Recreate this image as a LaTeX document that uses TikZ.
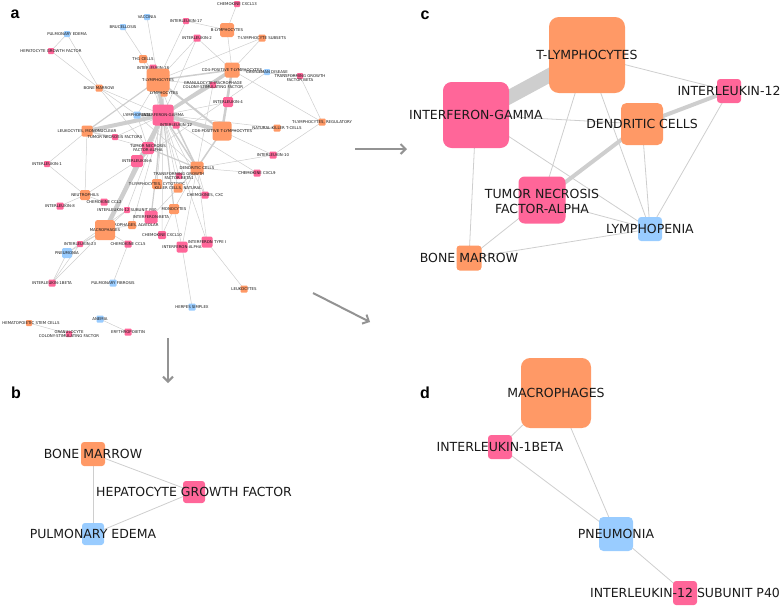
\documentclass[tikz,border=0pt]{standalone}
\usepackage{fontspec}
\setmainfont{DejaVu Sans}
\newfontfamily\panelfont{Liberation Sans}
\usetikzlibrary{arrows.meta}
\definecolor{orng}{RGB}{255,153,102}
\definecolor{pnk}{RGB}{255,102,153}
\definecolor{skyb}{RGB}{153,204,255}
\definecolor{linkgray}{RGB}{206,206,206}
\definecolor{txt}{RGB}{26,26,26}
\pgfdeclarelayer{edges}
\pgfsetlayers{edges,main}

\begin{document}
\begin{tikzpicture}[x=1pt,y=-1pt,
  nd/.style={rounded corners={0.13pt*#1},minimum size=#1pt,inner sep=0pt},
  orbox/.style={nd=#1,fill=orng},
  pkbox/.style={nd=#1,fill=pnk},
  blbox/.style={nd=#1,fill=skyb},
  big/.style={font=\fontsize{12.5}{15}\selectfont,text=txt,inner sep=0pt,align=center},
  tiny/.style={font=\fontsize{3.9}{4.5}\selectfont,text=txt,inner sep=0pt,align=center},
  link/.style={draw=linkgray,line width=#1pt},
  link/.default=0.8,
  flow/.style={draw=gray!85,line width=2pt,-{Straight Barb[length=5pt,width=10pt]}},
  panel/.style={font=\panelfont\bfseries\fontsize{16}{16}\selectfont,inner sep=0pt}]
  \useasboundingbox (0,0) rectangle (784,606);
  %
  \node[panel] (la) at (15,14) {a};
  \node[panel] (lb) at (16,393) {b};
  \node[panel] (lc) at (425,15) {c};
  \node[panel] (ld) at (425,393) {d};
  %
  % panel a
  \node[blbox=6,label={[tiny]center:VACCINIA}] (aVac) at (147,17) {};
  \node[blbox=6,label={[tiny]center:BRUCELLOSIS}] (aBru) at (123,27) {};
  \node[blbox=6,label={[tiny]center:PULMONARY EDEMA}] (aPE) at (67,34) {};
  \node[pkbox=6,label={[tiny]center:HEPATOCYTE GROWTH FACTOR}] (aHGF) at (51,51) {};
  \node[pkbox=6,label={[tiny]center:CHEMOKINE CXCL13}] (aCX13) at (237,4) {};
  \node[pkbox=6,label={[tiny]center:INTERLEUKIN-17}] (aIL17) at (186,21) {};
  \node[orbox=14,label={[tiny]center:B-LYMPHOCYTES}] (aBL) at (227,30) {};
  \node[pkbox=7,label={[tiny]center:INTERLEUKIN-2}] (aIL2) at (197,38) {};
  \node[orbox=7,label={[tiny]center:T-LYMPHOCYTE SUBSETS}] (aTLS) at (262,38) {};
  \node[orbox=8,label={[tiny]center:TH1 CELLS}] (aTh1) at (143,59) {};
  \node[pkbox=7,label={[tiny]center:INTERLEUKIN-18}] (aIL18) at (153,68) {};
  \node[orbox=23,label={[tiny]center:T-LYMPHOCYTES}] (aTL) at (158,80) {};
  \node[orbox=7,label={[tiny]center:LYMPHOCYTES}] (aLy) at (164,93) {};
  \node[orbox=7,label={[tiny]center:BONE MARROW}] (aBM) at (99,88) {};
  \node[orbox=15,label={[tiny]center:CD4-POSITIVE T-LYMPHOCYTES}] (aCD4) at (232,70) {};
  \node[blbox=6,label={[tiny]center:CASTLEMAN DISEASE}] (aCas) at (267,72) {};
  \node[pkbox=6,label={[tiny,yshift=-2pt]center:TRANSFORMING GROWTH\\FACTOR BETA}] (aTGFb) at (300,76) {};
  \node[pkbox=6,label={[tiny]center:GRANULOCYTE-MACROPHAGE\\COLONY-STIMULATING FACTOR}] (aGM) at (213,85) {};
  \node[pkbox=10,label={[tiny]center:INTERLEUKIN-4}] (aIL4) at (228,102) {};
  \node[blbox=7,label={[tiny]center:LYMPHOPENIA}] (aLP) at (137,115) {};
  \node[pkbox=21,label={[tiny]center:INTERFERON-GAMMA}] (aIFG) at (163,115) {};
  \node[pkbox=7,label={[tiny]center:INTERLEUKIN-12}] (aIL12) at (176,125) {};
  \node[orbox=7,label={[tiny]center:T-LYMPHOCYTES, REGULATORY}] (aTreg) at (322,122) {};
  \node[orbox=7,label={[tiny]center:NATURAL KILLER T-CELLS}] (aNKT) at (277,128) {};
  \node[orbox=19,label={[tiny]center:CD8-POSITIVE T-LYMPHOCYTES}] (aCD8) at (222,131) {};
  \node[orbox=11,label={[tiny]center:LEUKOCYTES, MONONUCLEAR}] (aLM) at (87,131) {};
  \node[pkbox=6,label={[tiny]center:TUMOR NECROSIS FACTORS}] (aTNFs) at (115,137) {};
  \node[pkbox=12,label={[tiny]center:TUMOR NECROSIS\\FACTOR-ALPHA}] (aTNF) at (148,148) {};
  \node[pkbox=7,label={[tiny]center:INTERLEUKIN-10}] (aIL10) at (273,155) {};
  \node[pkbox=12,label={[tiny]center:INTERLEUKIN-6}] (aIL6) at (137,161) {};
  \node[pkbox=6,label={[tiny]center:INTERLEUKIN-1}] (aIL1) at (47,164) {};
  \node[orbox=13,label={[tiny]center:DENDRITIC CELLS}] (aDC) at (197,168) {};
  \node[pkbox=7,label={[tiny]center:CHEMOKINE CXCL9}] (aCX9) at (257,173) {};
  \node[pkbox=6,label={[tiny]center:TRANSFORMING GROWTH\\FACTOR BETA1}] (aTGF1) at (179,176) {};
  \node[orbox=10,label={[tiny]center:T-LYMPHOCYTES, CYTOTOXIC}] (aCTL) at (157,184) {};
  \node[orbox=9,label={[tiny]center:KILLER CELLS, NATURAL}] (aNK) at (178,188) {};
  \node[pkbox=7,label={[tiny]center:CHEMOKINES, CXC}] (aCXC) at (205,195) {};
  \node[orbox=10,label={[tiny]center:NEUTROPHILS}] (aNeu) at (85,195) {};
  \node[pkbox=7,label={[tiny]center:CHEMOKINE CCL2}] (aCCL2) at (104,202) {};
  \node[pkbox=7,label={[tiny]center:INTERLEUKIN-8}] (aIL8) at (60,206) {};
  \node[orbox=10,label={[tiny]center:MONOCYTES}] (aMo) at (174,209) {};
  \node[pkbox=6,label={[tiny]center:INTERLEUKIN-12 SUBUNIT P40}] (aIL12p) at (127,210) {};
  \node[pkbox=13,label={[tiny]center:INTERFERON-BETA}] (aIFB) at (151,217) {};
  \node[orbox=8,label={[tiny]center:MACROPHAGES, ALVEOLAR}] (aMA) at (132,225) {};
  \node[orbox=20,label={[tiny]center:MACROPHAGES}] (aMac) at (105,230) {};
  \node[pkbox=8,label={[tiny]center:CHEMOKINE CXCL10}] (aCX10) at (162,235) {};
  \node[pkbox=11,label={[tiny]center:INTERFERON TYPE I}] (aIFN1) at (207,242) {};
  \node[pkbox=11,label={[tiny]center:INTERFERON-ALPHA}] (aIFA) at (182,247) {};
  \node[pkbox=7,label={[tiny]center:CHEMOKINE CCL5}] (aCCL5) at (128,244) {};
  \node[pkbox=6,label={[tiny]center:INTERLEUKIN-23}] (aIL23) at (80,244) {};
  \node[blbox=10,label={[tiny]center:PNEUMONIA}] (aPn) at (67,253) {};
  \node[pkbox=7,label={[tiny]center:INTERLEUKIN-1BETA}] (aIL1b) at (52,283) {};
  \node[blbox=7,label={[tiny]center:PULMONARY FIBROSIS}] (aPF) at (113,283) {};
  \node[orbox=7,label={[tiny]center:LEUKOCYTES}] (aLeu) at (244,289) {};
  \node[blbox=7,label={[tiny]center:HERPES SIMPLEX}] (aHS) at (192,307) {};
  \node[blbox=7,label={[tiny]center:ANEMIA}] (aAn) at (100,319) {};
  \node[pkbox=7,label={[tiny]center:ERYTHROPOIETIN}] (aEPO) at (128,332) {};
  \node[orbox=6,label={[tiny,xshift=2pt]center:HEMATOPOIETIC STEM CELLS}] (aHSC) at (29,323) {};
  \node[pkbox=6,label={[tiny]center:GRANULOCYTE\\COLONY-STIMULATING FACTOR}] (aGCSF) at (69,334) {};
  %
  % panel b
  \node[orbox=24,label={[big]center:BONE MARROW}] (bBM) at (93,454) {};
  \node[pkbox=22,label={[big]center:HEPATOCYTE GROWTH FACTOR}] (bHGF) at (194,492) {};
  \node[blbox=22,label={[big]center:PULMONARY EDEMA}] (bPE) at (93,534) {};
  %
  % panel c
  \node[orbox=76,label={[big]center:T-LYMPHOCYTES}] (cTL) at (587,55) {};
  \node[pkbox=66,label={[big]center:INTERFERON-GAMMA}] (cIFG) at (476,115) {};
  \node[pkbox=24,label={[big]center:INTERLEUKIN-12}] (cIL12) at (729,91) {};
  \node[orbox=42,label={[big]center:DENDRITIC CELLS}] (cDC) at (642,124) {};
  \node[pkbox=47,label={[big,yshift=-1pt]center:TUMOR NECROSIS\\FACTOR-ALPHA}] (cTNF) at (542,200) {};
  \node[blbox=24,label={[big]center:LYMPHOPENIA}] (cLP) at (650,229) {};
  \node[orbox=25,label={[big]center:BONE MARROW}] (cBM) at (469,258) {};
  %
  % panel d
  \node[orbox=70,label={[big]center:MACROPHAGES}] (dMac) at (556,393) {};
  \node[pkbox=24,label={[big]center:INTERLEUKIN-1BETA}] (dIL1b) at (500,447) {};
  \node[blbox=34,label={[big]center:PNEUMONIA}] (dPn) at (616,534) {};
  \node[pkbox=24,label={[big]center:INTERLEUKIN-12 SUBUNIT P40}] (dIL12p) at (685,593) {};
  %
  % arrows between panels
  \coordinate (toB1) at (168,338);
  \coordinate (toB2) at (168,383);
  \coordinate (toC1) at (355,149);
  \coordinate (toC2) at (407,149);
  \coordinate (toD1) at (313,293);
  \coordinate (toD2) at (370,322);
  \draw[flow] (toB1) -- (toB2);
  \draw[flow] (toC1) -- (toC2);
  \draw[flow] (toD1) -- (toD2);
  %
  \begin{pgfonlayer}{edges}
    \foreach \u/\v/\w in {aIFG/aTL/4,aIFG/aMac/4.5,aIFG/aLM/4,aIFG/aCD8/4,aIFG/aCD4/3.5,
      aIFG/aGM/2,aCD4/aCD8/2.5,aTL/aCD8/2,aIFG/aTNF/2,aIFG/aIL6/1.5,aIFG/aDC/1.5,
      aCD8/aDC/1.5,aTL/aLM/1.2,aTNF/aDC/1.2,aIL12/aDC/1.5,aTL/aCD4/1.5,aIFG/aIFB/1.2,
      aIL6/aMac/1.2,aTNF/aMac/1.2,aIFG/aMo/1.2}
      \draw[link=\w] (\u.center) -- (\v.center);
    \foreach \u/\v in {aPE/aHGF,aPE/aBM,aHGF/aBM,aVac/aTL,aBru/aTL,aTh1/aIFG,aIL18/aIFG,
      aBM/aIFG,aBM/aTNF,aBM/aLP,aLP/aIFG,aLP/aTL,aCX13/aBL,aIL17/aBL,aIL17/aTL,aBL/aCD4,
      aIL2/aTL,aIL2/aCD4,aIL2/aIFG,aTLS/aCD4,aTLS/aTL,aCas/aIL6,aCas/aCD4,aTGFb/aTreg,
      aTGFb/aCD4,aTreg/aIL10,aTreg/aCD4,aNKT/aIFG,aNKT/aCD8,aIL10/aDC,aIL10/aCD8,
      aCX9/aDC,aCX9/aIFG,aCXC/aDC,aCXC/aIFG,aMo/aDC,aMo/aIFA,aIFN1/aDC,aIFN1/aLeu,
      aIFN1/aIFG,aCX10/aIFG,aCX10/aMo,aIFA/aHS,aIFA/aDC,aTGF1/aIFG,aNK/aIFG,aNK/aDC,
      aCTL/aIFG,aCTL/aTL,aIFB/aDC,aIL12p/aMac,aIL12p/aIFG,aMA/aMac,aMA/aIFG,aNeu/aIL1,
      aNeu/aLM,aNeu/aIL8,aNeu/aCCL2,aNeu/aIL6,aIL1/aLM,aTNFs/aIFG,aTNFs/aLM,aTNF/aLM,
      aCCL5/aPF,aCCL5/aMac,aIL23/aIL1b,aIL23/aMac,aPn/aIL1b,aPn/aMac,aPn/aIL12p,
      aMac/aIL1b,aAn/aEPO,aHSC/aGCSF,aIL4/aIFG,aIL4/aCD4,aTNF/aLP,aDC/aLP,aIL12/aLP,
      aTL/aIL12,aGM/aTL,aGM/aDC,aLy/aIFG,aLy/aTL}
      \draw[link=0.5] (\u.center) -- (\v.center);
    %
    \foreach \u/\v in {bBM/bHGF,bBM/bPE,bPE/bHGF}
      \draw[link] (\u.center) -- (\v.center);
    %
    \draw[link=14] (cIFG.center) -- (cTL.center);
    \draw[link=4] (cDC.center) -- (cIL12.center);
    \draw[link=4] (cDC.center) -- (cTNF.center);
    \foreach \u/\v in {cTL/cIL12,cIFG/cDC,cTL/cTNF,cTL/cLP,cIFG/cLP,cIFG/cBM,
      cTNF/cLP,cTNF/cBM,cBM/cLP,cDC/cLP,cIL12/cLP}
      \draw[link] (\u.center) -- (\v.center);
    %
    \foreach \u/\v in {dMac/dIL1b,dMac/dPn,dIL1b/dPn,dPn/dIL12p}
      \draw[link] (\u.center) -- (\v.center);
  \end{pgfonlayer}
\end{tikzpicture}
\end{document}
